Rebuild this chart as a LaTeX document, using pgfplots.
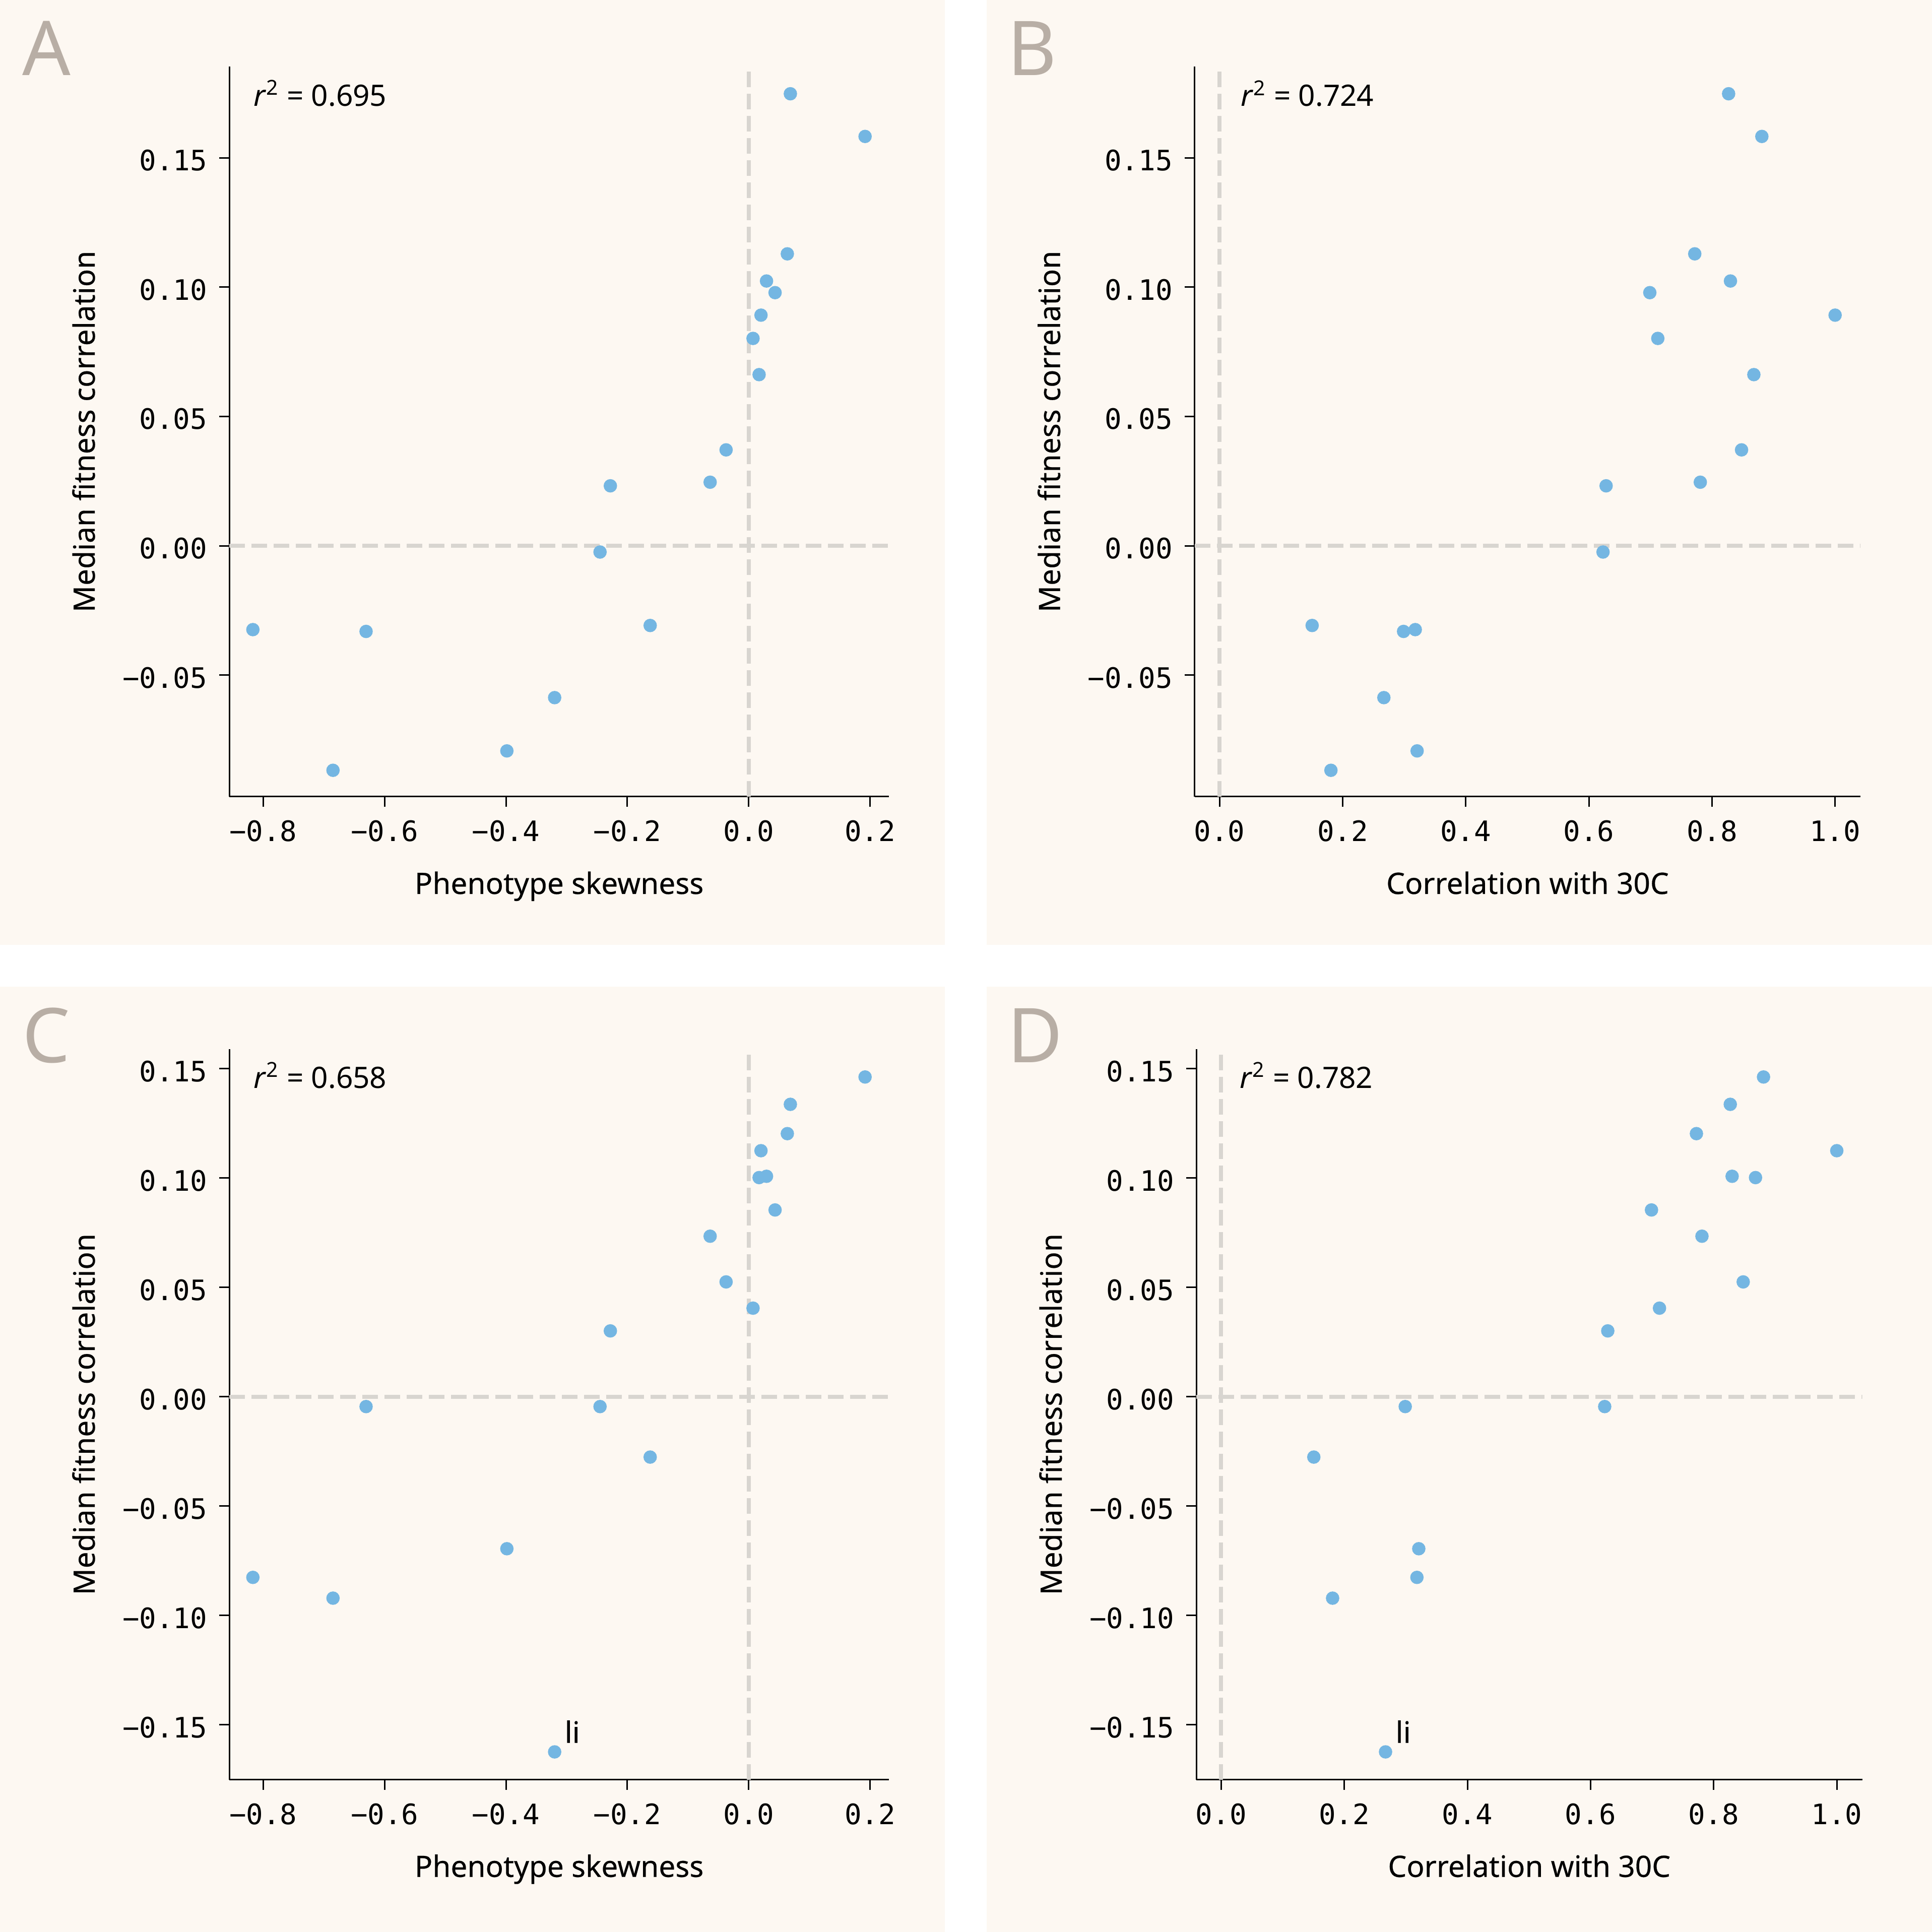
\documentclass[border=0pt]{standalone}
\usepackage{fontspec}
\setmainfont{Noto Sans}
\newfontfamily\labfont{Noto Sans}[FakeBold=0.35]
\newfontfamily\monofont{DejaVu Sans Mono}
\usepackage{pgfplots}
\usepackage{pgfplotstable}
\pgfplotsset{compat=1.18}
\definecolor{bgc}{RGB}{253,248,242}
\definecolor{dotc}{RGB}{116,182,226}
\definecolor{dashc}{RGB}{216,213,208}
\definecolor{letc}{RGB}{184,174,165}

\pgfplotstableread{
skew corr med medc
0.0686 0.827 0.1748 0.1337
0.1917 0.881 0.1583 0.1462
0.0636 0.772 0.1129 0.1203
0.0293 0.830 0.1024 0.1008
0.0434 0.699 0.0979 0.0854
0.0202 1.000 0.0892 0.1125
0.0071 0.712 0.0802 0.0405
0.0171 0.868 0.0662 0.1002
-0.0373 0.848 0.0371 0.0525
-0.0636 0.781 0.0246 0.0734
-0.228 0.628 0.0232 0.0301
-0.245 0.623 -0.0024 -0.0045
-0.1624 0.1505 -0.0308 -0.0276
-0.817 0.318 -0.0324 -0.0826
-0.6305 0.299 -0.0331 -0.0045
-0.3198 0.267 -0.0587 -0.1624
-0.3985 0.321 -0.0793 -0.0695
-0.685 0.181 -0.0868 -0.0921
}\data

\newcommand{\sfs}{\labfont\fontsize{11.7}{14}\selectfont}
\newcommand{\rfs}{\fontsize{11.7}{14}\selectfont}
\pgfplotsset{
  panel/.style={
    scale only axis, anchor=south west,
    axis lines=left, axis line style={-, line width=0.6pt, black},
    enlargelimits=false,
    tick align=outside, major tick length=4pt,
    tick style={line width=0.6pt, black},
    minor tick num=0,
    ticklabel style={font=\monofont\fontsize{11.16}{13}\selectfont, inner sep=0pt, text=black},
    x tick label style={anchor=base, yshift=-13.8pt},
    y tick label style={anchor=east, xshift=-4.6pt, yshift=-1pt},
    every axis x label/.style={at={([yshift=-38.6pt]axis description cs:0.5,0)}, anchor=base, inner sep=0pt, font=\sfs},
    every axis y label/.style={at={([xshift=-53.4pt]axis description cs:0,0.5)}, rotate=90, anchor=base, inner sep=0pt, font=\sfs},
    ylabel={Median fitness correlation},
  },
  skewx/.style={xmin=-0.8559, xmax=0.2312, xtick={-0.8,-0.6,-0.4,-0.2,0,0.2},
    xticklabels={−0.8,−0.6,−0.4,−0.2,0.0,0.2}, xlabel={Phenotype skewness}},
  corrx/.style={xmin=-0.0404, xmax=1.0414, xtick={0,0.2,0.4,0.6,0.8,1.0},
    xticklabels={0.0,0.2,0.4,0.6,0.8,1.0}, xlabel={Correlation with 30C}},
  topy/.style={ymin=-0.0970, ymax=0.1854, ytick={-0.05,0,0.05,0.10,0.15},
    yticklabels={−0.05,0.00,0.05,0.10,0.15}},
  boty/.style={ymin=-0.1751, ymax=0.1590, ytick={-0.15,-0.10,-0.05,0,0.05,0.10,0.15},
    yticklabels={−0.15,−0.10,−0.05,0.00,0.05,0.10,0.15}},
  dots/.style={only marks, mark=*, mark size=2.46pt, color=dotc, mark options={fill=dotc, draw=none}},
  refl/.style={dashc, line width=1.6pt, dash pattern=on 6.2pt off 2.6pt, forget plot},
}

\begin{document}
\begin{tikzpicture}
\fill[white] (0,0) rectangle (766.8pt,766.8pt);
\fill[bgc] (0,391.8pt) rectangle (375pt,766.8pt);
\fill[bgc] (391.6pt,391.8pt) rectangle (766.8pt,766.8pt);
\fill[bgc] (0,0) rectangle (375pt,375.2pt);
\fill[bgc] (391.6pt,0) rectangle (766.8pt,375.2pt);

\node[anchor=base west, inner sep=0pt, text=letc, font=\fontsize{30}{36}\selectfont] at (8.7pt,736.8pt) {A};
\node[anchor=base west, inner sep=0pt, text=letc, font=\fontsize{30}{36}\selectfont] at (399.7pt,736.8pt) {B};
\node[anchor=base west, inner sep=0pt, text=letc, font=\fontsize{30}{36}\selectfont] at (8.7pt,345pt) {C};
\node[anchor=base west, inner sep=0pt, text=letc, font=\fontsize{30}{36}\selectfont] at (399.7pt,345pt) {D};

% Panel A
\begin{axis}[panel, skewx, topy, at={(91pt,450.6pt)}, width=261.86pt, height=289.86pt]
\addplot[refl] coordinates {(-0.8559,0) (0.2312,0)};
\addplot[refl] coordinates {(0,-0.0970) (0,0.1854)};
\addplot[dots] table[x=skew, y=med] {\data};
\end{axis}

% Panel B
\begin{axis}[panel, corrx, topy, at={(474.14pt,450.6pt)}, width=264.32pt, height=289.86pt]
\addplot[refl] coordinates {(-0.0404,0) (1.0414,0)};
\addplot[refl] coordinates {(0,-0.0970) (0,0.1854)};
\addplot[dots] table[x=corr, y=med] {\data};
\end{axis}

% Panel C
\begin{axis}[panel, skewx, boty, at={(91pt,60.46pt)}, width=261.86pt, height=290pt]
\addplot[refl] coordinates {(-0.8559,0) (0.2312,0)};
\addplot[refl] coordinates {(0,-0.1751) (0,0.1590)};
\addplot[dots] table[x=skew, y=medc] {\data};
\node[anchor=base west, inner sep=0pt, font=\sfs, xshift=3.8pt, yshift=3.6pt] at (axis cs:-0.3198,-0.1624) {li};
\end{axis}

% Panel D
\begin{axis}[panel, corrx, boty, at={(474.8pt,60.46pt)}, width=264.32pt, height=290pt]
\addplot[refl] coordinates {(-0.0404,0) (1.0414,0)};
\addplot[refl] coordinates {(0,-0.1751) (0,0.1590)};
\addplot[dots] table[x=corr, y=medc] {\data};
\node[anchor=base west, inner sep=0pt, font=\sfs, xshift=3.8pt, yshift=3.6pt] at (axis cs:0.267,-0.1624) {li};
\end{axis}

\node[anchor=base west, inner sep=0pt, font=\rfs] at (100.4pt,724.66pt) {\textit{r}\textsuperscript{2} = 0.695};
\node[anchor=base west, inner sep=0pt, font=\rfs] at (492.2pt,724.6pt) {\textit{r}\textsuperscript{2} = 0.724};
\node[anchor=base west, inner sep=0pt, font=\rfs] at (100.4pt,334.9pt) {\textit{r}\textsuperscript{2} = 0.658};
\node[anchor=base west, inner sep=0pt, font=\rfs] at (491.8pt,334.9pt) {\textit{r}\textsuperscript{2} = 0.782};

\pgfresetboundingbox
\useasboundingbox (0,0) rectangle (766.8pt,766.8pt);
\end{tikzpicture}
\end{document}
